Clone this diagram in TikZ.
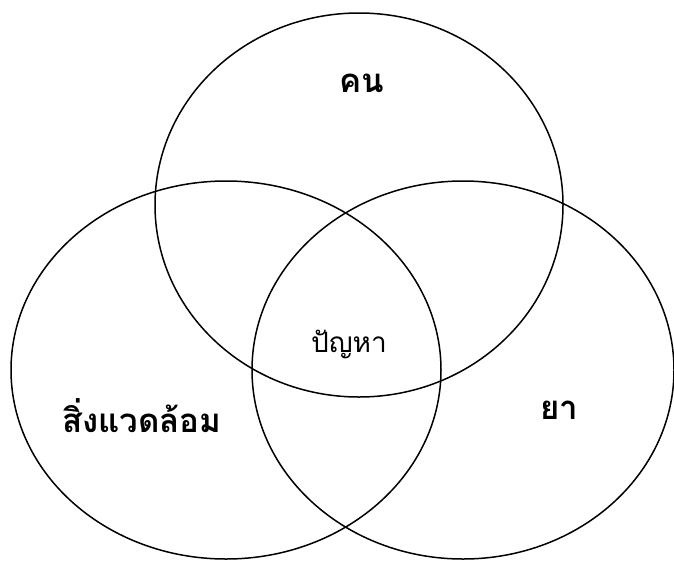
\documentclass[tikz,border=0pt]{standalone}
\usepackage{fontspec}
\newfontfamily\thaifont[Script=Thai]{Loma}
\begin{document}
\begin{tikzpicture}[x=1pt,y=-1pt,
  venn/.style={draw=black,line width=1.5pt},
  lbl/.style={font=\thaifont\fontsize{33}{38}\selectfont\bfseries,inner sep=0pt},
  lblc/.style={font=\thaifont\fontsize{28}{33}\selectfont,inner sep=0pt}]
\useasboundingbox (0,0) rectangle (674,563);
\draw[venn] (359,205) ellipse [x radius=204pt, y radius=192pt];
\draw[venn] (226,370) ellipse [x radius=215pt, y radius=189pt];
\draw[venn] (463,370) ellipse [x radius=211pt, y radius=189pt];
\node[lbl] (khon) at (362,83) {คน};
\node[lblc] (panha) at (349,344) {ปัญหา};
\node[lbl] (sing) at (142,416) {สิ่งแวดล้อม};
\node[lbl] (ya) at (559,410) {ยา};
\end{tikzpicture}
\end{document}
